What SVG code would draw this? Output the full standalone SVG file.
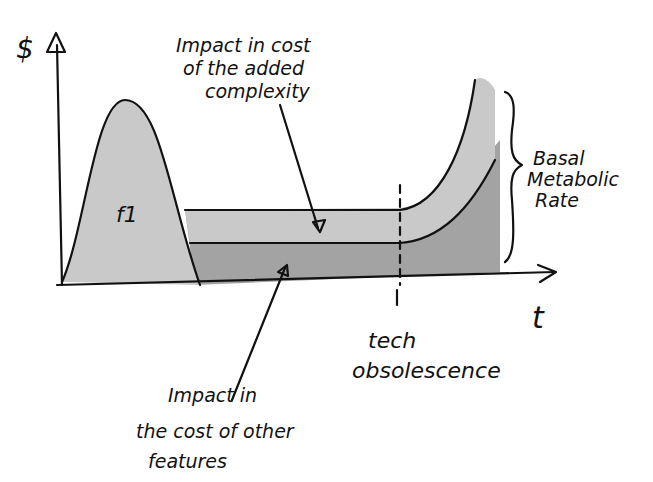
<svg xmlns="http://www.w3.org/2000/svg" width="653" height="482" viewBox="0 0 653 482">
<style>
.ln{fill:none;stroke:#111;stroke-width:2.2;stroke-linecap:round;stroke-linejoin:round}
.tx{font-family:"DejaVu Sans",sans-serif;font-style:italic;font-size:19px;fill:#111}
</style>
<rect width="653" height="482" fill="#fff"/>
<g id="areas">
<path d="M185,210 L400,210 C440,205 470,175 500,140 L500,272 L195,285 Z" fill="#a3a3a3"/>
<path d="M185,210 L400,208 C440,205 465,150 475,80 C480,75 490,80 495,90 L495,160 C470,210 440,240 400,243 L190,243 Z" fill="#c9c9c9"/>
</g>
<g id="f1">
<path d="M62,282 C85,230 95,100 125,100 C160,100 170,200 200,285 Z" fill="#c9c9c9"/>
<path class="ln" d="M62,282 C85,230 95,100 125,100 C160,100 170,200 200,285"/>
<text class="tx" x="116" y="222" style="font-size:22px">f1</text>
</g>
<g id="curves">
<path class="ln" d="M185,210 L400,210 C440,205 465,150 475,80"/>
<path class="ln" d="M190,243 L400,243 C440,240 470,210 495,160"/>
<path class="ln" d="M400,185 L400,285" stroke-dasharray="8,6"/>
</g>
<g id="axes">
<path class="ln" d="M62,285 L57,45"/>
<path class="ln" d="M47,52 L56,33 L65,52 Z"/>
<path class="ln" d="M57,285 L555,272"/>
<path class="ln" d="M538,265 L556,272 L540,282"/>
<path class="ln" d="M397,290 L397,305"/>
<text class="tx" x="16" y="58" style="font-size:28px">$</text>
<text class="tx" x="532" y="328" style="font-size:30px">t</text>
</g>
<g id="brace">
<path class="ln" d="M505,92 C515,95 515,110 512,130 C510,150 512,160 522,165 C512,170 510,180 512,200 C514,230 515,255 505,262"/>
<text class="tx" x="533" y="165">Basal</text>
<text class="tx" x="527" y="186">Metabolic</text>
<text class="tx" x="535" y="207">Rate</text>
</g>
<g id="labels">
<text class="tx" x="176" y="52">Impact in cost</text>
<text class="tx" x="183" y="75">of the added</text>
<text class="tx" x="205" y="98">complexity</text>
<path class="ln" d="M280,105 L318,228"/>
<path class="ln" d="M313,222 L320,232 L325,220 Z"/>
<text class="tx" x="168" y="402">Impact in</text>
<text class="tx" x="136" y="438">the cost of other</text>
<text class="tx" x="148" y="468">features</text>
<path class="ln" d="M232,400 L285,268"/>
<path class="ln" d="M278,272 L287,265 L288,276 Z"/>
<text class="tx" x="368" y="348" style="font-size:22px">tech</text>
<text class="tx" x="352" y="378" style="font-size:22px">obsolescence</text>
</g>
</svg>
